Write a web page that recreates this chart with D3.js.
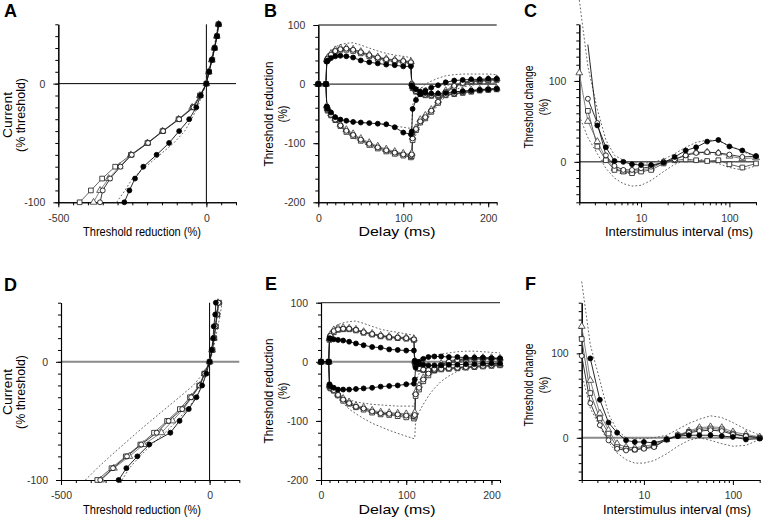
<!DOCTYPE html>
<html><head><meta charset="utf-8">
<script src="https://cdn.jsdelivr.net/npm/d3@7"></script>
<style>body{margin:0;background:#fff}svg{display:block}text{font-family:Arial,"Liberation Sans",sans-serif}</style>
</head><body><svg id="c" width="763" height="517"></svg>
<script>
// ---------- DATA ----------
// Current-threshold (A, D): x = threshold reduction (%), y = current (% threshold)
const currentLevels = [-100,-90,-80,-70,-60,-50,-40,-30,-20,-10,0,10,20,30,40,50];
const A_filled   = [-277,-260,-241,-213,-168,-126,-92,-58,-34,-19,0,9,19,28,36,42];
const A_circle   = [-359,-350,-325,-290,-252,-197,-146,-92,-43,-20,0,8,18,27,35,40];
const A_triangle = [-381,-359,-330,-293,-255,-199,-148,-94,-48,-22,0,8,18,27,35,41];
const A_square   = [-428,-390,-352,-308,-255,-199,-148,-94,-45,-22,0,9,20,28,36,41];
const A_dashed   = [-303,-275,-250,-205,-157,-110,-73,-50,-30,-15,0,8,17,25,33,40];

const D_filled   = [-306,-280,-243,-203,-132,-101,-70,-44,-25,-11,0,7,12,14,19,21];
const D_circle   = [-368,-325,-278,-230,-178,-138,-92,-62,-33,-17,0,9,15,20,25,30];
const D_triangle = [-365,-322,-270,-222,-162,-125,-88,-60,-32,-16,0,8,14,19,24,28];
const D_square   = [-378,-330,-282,-233,-187,-143,-100,-66,-35,-18,0,10,16,21,26,32];
const D_dashedL  = [-418,-378,-335,-290,-245,-198,-150,-102,-55,-22,0,12,20,28,36,42];
const D_dashedR  = [-295,-270,-235,-195,-150,-110,-75,-45,-25,-10,0,9,15,20,25,30];

// Threshold electrotonus (B, E): delay (ms)
const teDelays = [0,9,10,11,15,20,26,33,41,50,60,70,80,90,100,109,110,111,115,120,126,133,141,150,160,170,180,190,200,210];
const B_TEd_filled   = [0,0,38,40,44,47,48,47,45,40,37,35,33,32,30,30,-2,-5,-9,-13,-15,-16,-16,-15,-13,-12,-11,-10,-9,-8];
const B_TEd_circle   = [0,0,40,43,50,56,59,60,58,54,49,45,42,40,39,37,0,-6,-12,-16,-18,-19,-19,-18,-16,-14,-12,-10,-9,-8];
const B_TEd_triangle = [0,0,41,45,52,58,61,61,59,55,50,46,43,41,40,38,1,-4,-10,-14,-16,-17,-17,-16,-14,-12,-10,-9,-8,-7];
const B_TEd_square   = [0,0,39,42,48,55,58,58,56,52,47,43,40,38,37,35,-1,-7,-13,-17,-19,-20,-20,-19,-17,-15,-13,-11,-10,-9];
const B_TEh_filled   = [0,0,-38,-42,-48,-56,-60,-62,-64,-65,-66,-67,-68,-73,-82,-85,-80,-42,-27,-17,-11,-6,-2,3,6,7,8,8,9,9];
const B_TEh_circle   = [0,0,-38,-44,-52,-60,-70,-79,-86,-94,-101,-107,-112,-116,-119,-121,-119,-92,-76,-63,-56,-45,-30,-13,-3,2,5,6,7,8];
const B_TEh_triangle = [0,0,-37,-42,-50,-58,-68,-77,-84,-92,-99,-105,-110,-114,-117,-119,-117,-90,-74,-60,-53,-43,-28,-11,-1,3,6,7,8,9];
const B_TEh_square   = [0,0,-40,-45,-53,-61,-71,-81,-88,-96,-103,-109,-114,-118,-121,-124,-122,-95,-78,-65,-58,-47,-32,-15,-5,1,4,5,6,7];
const B_dashed1 = [null,null,45,48,56,63,67,69,70,66,61,56,52,49,47,45,0,-3,-5,-6,-6,-5,-3,-2,-1,0,1,1,1,2];
const B_dashed2 = [null,null,-38,-42,-48,-55,-60,-62,-64,-65,-66,-67,-69,-71,-73,-75,-72,-35,-20,-8,0,5,10,14,16,17,17,17,17,16];
const B_dashed3 = [null,null,-41,-46,-55,-63,-73,-82,-90,-98,-105,-111,-116,-120,-123,-126,-124,-100,-85,-70,-62,-50,-35,-20,-10,-5,-2,0,1,2];

const E_TEd_filled   = [0,0,40,39,38,37,36,34,31,28,25,24,21,20,19,19,2,-2,-4,-5,-6,-6,-6,-5,-5,-4,-4,-3,-3,-3];
const E_TEd_circle   = [0,0,38,44,52,55,56,56,54,50,47,44,42,41,40,38,0,-5,-11,-13,-14,-14,-12,-11,-10,-9,-8,-7,-6,-5];
const E_TEd_triangle = [0,0,39,46,54,57,58,57,55,51,48,45,43,42,41,39,1,-4,-10,-12,-13,-13,-11,-10,-9,-8,-7,-6,-5,-4];
const E_TEd_square   = [0,0,37,43,50,54,55,55,53,49,46,43,41,40,39,37,-1,-6,-12,-14,-15,-15,-13,-12,-11,-10,-9,-8,-7,-6];
const E_TEh_filled   = [0,0,-38,-42,-44,-47,-47,-47,-46,-45,-44,-42,-41,-40,-38,-37,-30,-10,0,5,8,9,9,8,8,7,7,7,6,6];
const E_TEh_circle   = [0,0,-40,-44,-48,-56,-64,-70,-76,-79,-84,-87,-88,-89,-91,-92,-90,-55,-44,-30,-20,-12,-5,0,3,5,6,6,6,5];
const E_TEh_triangle = [0,0,-40,-43,-47,-55,-62,-68,-74,-77,-82,-85,-86,-87,-88,-89,-86,-52,-40,-27,-18,-10,-3,2,4,6,7,7,7,6];
const E_TEh_square   = [0,0,-41,-45,-49,-57,-66,-71,-77,-81,-86,-89,-90,-92,-94,-96,-93,-58,-47,-33,-23,-14,-7,-2,1,3,4,5,5,4];
const E_dashed1 = [null,null,45,50,58,63,66,68,69,65,60,55,52,50,47,45,0,3,5,7,9,11,13,15,17,18,18,17,16,15];
const E_dashed2 = [null,null,-42,-45,-50,-55,-60,-64,-68,-70,-72,-73,-74,-75,-75,-75,-70,-35,-20,-12,-8,-5,-3,-2,-1,0,0,0,0,0];
const E_dashed3 = [null,null,-45,-50,-55,-62,-70,-80,-88,-96,-104,-110,-116,-121,-126,-130,-128,-100,-85,-72,-58,-45,-33,-24,-16,-11,-8,-5,-3,-1];

// Recovery cycle (C, F): interstimulus interval (ms)
const rcISI = [2,2.5,3.2,4,5,6.3,7.9,10,13,18,24,32,42,56,75,100,140,200];
const C_filled   = [null,145,45,18,1,0,-3,-4,-4,-1,6,14,18,25,27,19,14,7];
const C_circle   = [null,78,48,8,-5,-10,-10,-8,-6,0,3,8,11,12,11,9,6,7];
const C_triangle = [110,50,25,4,-8,-12,-12,-10,-8,0,3,9,12,12,11,7,4,5];
const C_square   = [null,63,19,2,-10,-12,-14,-12,-10,-2,2,3,2,1,2,-3,-7,-2];
const C_dashedU  = [200,118,65,27,8,2,-1,-2,-1,3,10,18,24,27,26,20,13,6];
const C_dashedL  = [57,30,10,-8,-20,-27,-30,-29,-23,-12,-3,2,3,2,-2,-7,-10,-5];

const F_filled   = [null,94,45,18,6,-3,-5,-5,-6,-2,2,3,3,3,2,1,-2,-1];
const F_circle   = [97,41,15,-3,-13,-15,-14,-13,-11,-2,2,6,8,9,8,4,2,0];
const F_triangle = [132,68,29,9,-7,-11,-12,-10,-8,-2,3,8,12,13,12,7,4,1];
const F_square   = [117,53,23,5,-11,-13,-14,-12,-10,-2,3,7,10,11,10,5,2,0];
const F_dashedU  = [185,110,68,28,9,0,-1,-1,0,3,10,17,22,26,24,18,10,3];
const F_dashedL  = [76,35,13,-5,-18,-26,-30,-30,-27,-19,-10,-3,0,-3,-7,-10,-9,-2];

// ---------- STYLES ----------
const ST = {
  filled:   {shape:'circle',   fill:'#000', stroke:'#000', line:'#111'},
  circle:   {shape:'circle',   fill:'#fff', stroke:'#111', line:'#222'},
  triangle: {shape:'triangle', fill:'#fff', stroke:'#444', line:'#777'},
  square:   {shape:'square',   fill:'#fff', stroke:'#222', line:'#555'},
  dashed:   {dash:'1.8,2', line:'#555'}
};

const svg = d3.select('#c');
const fmt = d => String(d);

function rangeStep(a,b,s){const r=[];for(let v=a;v<=b+1e-9;v+=s)r.push(+v.toFixed(6));return r;}

function addPanel(p){
  const g = svg.append('g');
  const x = (p.log ? d3.scaleLog() : d3.scaleLinear()).domain(p.xDomain).range(p.xRange);
  const y = d3.scaleLinear().domain(p.yDomain).range(p.yRange);
  const x0 = p.xRange[0], yb = p.yRange[0];

  p.refs.forEach(r=>{
    if (r.h !== undefined){
      g.append('line').attr('x1',x(p.xDomain[0])).attr('x2',x(p.xDomain[1]))
        .attr('y1',y(r.h)).attr('y2',y(r.h)).attr('stroke',r.color).attr('stroke-width',r.w);
    } else {
      g.append('line').attr('x1',x(r.v)).attr('x2',x(r.v))
        .attr('y1',y(p.yDomain[0])).attr('y2',y(p.yDomain[1])).attr('stroke',r.color).attr('stroke-width',r.w);
    }
  });

  const ax = [];
  ax.push(g.append('g').attr('transform',`translate(${x0},0)`)
    .call(d3.axisLeft(y).tickValues(p.yMinor).tickSize(3).tickSizeOuter(0).tickFormat('')));
  ax.push(g.append('g').attr('transform',`translate(${x0},0)`)
    .call(d3.axisLeft(y).tickValues(p.yMajor).tickSize(5).tickSizeOuter(0).tickPadding(8).tickFormat(fmt)));
  ax.push(g.append('g').attr('transform',`translate(0,${yb})`)
    .call(d3.axisBottom(x).tickValues(p.xMinor).tickSize(3).tickSizeOuter(0).tickFormat('')));
  ax.push(g.append('g').attr('transform',`translate(0,${yb})`)
    .call(d3.axisBottom(x).tickValues(p.xMajor).tickSize(5).tickSizeOuter(0).tickPadding(7).tickFormat(fmt)));
  ax.forEach(a=>{
    a.selectAll('path.domain').attr('stroke','#000').attr('stroke-width',1.1);
    a.selectAll('line').attr('stroke','#000');
    a.selectAll('text').attr('font-size',10.5).attr('fill','#333').attr('font-family','Arial, Liberation Sans, sans-serif');
  });

  const line = d3.line().defined(d=>d[1]!==null && d[0]!==null).x(d=>x(d[0])).y(d=>y(d[1]));

  p.series.filter(s=>s.style==='dashed').forEach(s=>{
    g.append('path').datum(s.pts).attr('d',line).attr('fill','none')
      .attr('stroke',ST.dashed.line).attr('stroke-width',0.9).attr('stroke-dasharray',ST.dashed.dash);
  });
  const marked = p.series.filter(s=>s.style!=='dashed');
  marked.forEach(s=>{
    g.append('path').datum(s.pts).attr('d',line).attr('fill','none')
      .attr('stroke',ST[s.style].line).attr('stroke-width',0.9);
  });
  marked.forEach(s=>{
    const st = ST[s.style];
    const pts = s.pts.filter((d,i)=>d[0]!==null && d[1]!==null && i >= (s.markFrom||0));
    const sym = st.shape==='circle' ? d3.symbol(d3.symbolCircle,19)
              : st.shape==='square' ? d3.symbol(d3.symbolSquare,22)
              : d3.symbol(d3.symbolTriangle,20);
    g.selectAll(null).data(pts).join('path')
      .attr('transform',d=>`translate(${x(d[0])},${y(d[1])})`)
      .attr('d',sym).attr('fill',st.fill).attr('stroke',st.stroke).attr('stroke-width',0.85);
  });

  g.append('text').attr('x',p.letter[0]).attr('y',p.letter[1]).attr('font-size',18)
    .attr('font-weight','bold').text(p.letter[2]);
  g.append('text').attr('x',p.xTitle[0]).attr('y',p.xTitle[1]).attr('text-anchor','middle')
    .attr('font-size',13).attr('textLength',p.xTitle[3]).attr('lengthAdjust','spacingAndGlyphs').text(p.xTitle[2]);
  p.yTitle.forEach(t=>{
    g.append('text').attr('transform',`translate(${t[0]},${t[1]}) rotate(-90)`)
      .attr('text-anchor','middle').attr('dy','0.35em').attr('font-size',t[4]||13)
      .attr('textLength',t[3]).attr('lengthAdjust','spacingAndGlyphs').text(t[2]);
  });
}

const ct = arr => arr.map((v,i)=>[v,currentLevels[i]]);
const te = arr => teDelays.map((t,i)=>[t,arr[i]]);
const rc = arr => rcISI.map((t,i)=>[t,arr[i]]);
const logMinor = [2,3,4,5,6,7,8,9,20,30,40,50,60,70,80,90,200];

addPanel({
  xDomain:[-500,100], xRange:[58.3,236], yDomain:[-100,50], yRange:[202.3,24.3],
  xMajor:[-500,0], xMinor:rangeStep(-500,100,50), yMajor:[-100,0], yMinor:rangeStep(-100,50,10),
  refs:[{h:0,color:'#000',w:1},{v:0,color:'#000',w:1}],
  series:[{style:'dashed',pts:ct(A_dashed)},{style:'triangle',pts:ct(A_triangle)},{style:'square',pts:ct(A_square)},
          {style:'circle',pts:ct(A_circle)},{style:'filled',pts:ct(A_filled)}],
  letter:[4,17,'A'], xTitle:[142,236,'Threshold reduction (%)',118],
  yTitle:[[8,115,'Current',46,12],[21,115,'(% threshold)',74,12.5]]
});
addPanel({
  xDomain:[0,210], xRange:[318.3,496.7], yDomain:[-200,100], yRange:[202.3,25],
  xMajor:[0,100,200], xMinor:rangeStep(0,210,10), yMajor:[-200,-100,0,100], yMinor:rangeStep(-200,100,20),
  refs:[{h:0,color:'#000',w:1},{h:100,color:'#000',w:1}],
  series:[{style:'dashed',pts:te(B_dashed1)},{style:'dashed',pts:te(B_dashed2)},{style:'dashed',pts:te(B_dashed3)},
          {style:'triangle',pts:te(B_TEd_triangle)},{style:'triangle',pts:te(B_TEh_triangle)},
          {style:'square',pts:te(B_TEd_square)},{style:'square',pts:te(B_TEh_square)},
          {style:'circle',pts:te(B_TEd_circle)},{style:'circle',pts:te(B_TEh_circle)},
          {style:'filled',pts:te(B_TEd_filled)},{style:'filled',pts:te(B_TEh_filled)}],
  letter:[264,17,'B'], xTitle:[397,236,'Delay (ms)',77],
  yTitle:[[268,114,'Threshold reduction',105],[282,114,'(%)',17]]
});
addPanel({
  log:true, xDomain:[2,200], xRange:[579.3,756], yDomain:[-50,170], yRange:[202.3,24.3],
  xMajor:[10,100], xMinor:logMinor, yMajor:[0,100], yMinor:rangeStep(-50,170,10),
  refs:[{h:0,color:'#000',w:1}],
  series:[{style:'dashed',pts:rc(C_dashedU)},{style:'dashed',pts:rc(C_dashedL)},
          {style:'triangle',pts:rc(C_triangle)},{style:'square',pts:rc(C_square)},
          {style:'circle',pts:rc(C_circle)},{style:'filled',pts:rc(C_filled),markFrom:2}],
  letter:[524,17,'C'], xTitle:[679,236,'Interstimulus interval (ms)',148],
  yTitle:[[528,107,'Threshold change',83],[543,107,'(%)',17]]
});
addPanel({
  xDomain:[-500,100], xRange:[61,239.3], yDomain:[-100,50], yRange:[480,302.7],
  xMajor:[-500,0], xMinor:rangeStep(-500,100,50), yMajor:[-100,0], yMinor:rangeStep(-100,50,10),
  refs:[{h:0,color:'#8a8a8a',w:2},{v:0,color:'#000',w:1}],
  series:[{style:'dashed',pts:ct(D_dashedL)},{style:'dashed',pts:ct(D_dashedR)},
          {style:'triangle',pts:ct(D_triangle)},{style:'square',pts:ct(D_square)},
          {style:'circle',pts:ct(D_circle)},{style:'filled',pts:ct(D_filled)}],
  letter:[4,291,'D'], xTitle:[142,514,'Threshold reduction (%)',118],
  yTitle:[[8,392,'Current',46,12],[21,392,'(% threshold)',74,12.5]]
});
addPanel({
  xDomain:[0,210], xRange:[321,500], yDomain:[-200,100], yRange:[480,302.7],
  xMajor:[0,100,200], xMinor:rangeStep(0,210,10), yMajor:[-200,-100,0,100], yMinor:rangeStep(-200,100,20),
  refs:[{h:0,color:'#8a8a8a',w:2},{h:100,color:'#444',w:1.2}],
  series:[{style:'dashed',pts:te(E_dashed1)},{style:'dashed',pts:te(E_dashed2)},{style:'dashed',pts:te(E_dashed3)},
          {style:'triangle',pts:te(E_TEd_triangle)},{style:'triangle',pts:te(E_TEh_triangle)},
          {style:'square',pts:te(E_TEd_square)},{style:'square',pts:te(E_TEh_square)},
          {style:'circle',pts:te(E_TEd_circle)},{style:'circle',pts:te(E_TEh_circle)},
          {style:'filled',pts:te(E_TEd_filled)},{style:'filled',pts:te(E_TEh_filled)}],
  letter:[265,290,'E'], xTitle:[397,514,'Delay (ms)',77],
  yTitle:[[268,391,'Threshold reduction',105],[282,391,'(%)',17]]
});
addPanel({
  log:true, xDomain:[2,200], xRange:[581.7,759.7], yDomain:[-50,160], yRange:[480,302.7],
  xMajor:[10,100], xMinor:logMinor, yMajor:[0,100], yMinor:rangeStep(-50,160,10),
  refs:[{h:0,color:'#8a8a8a',w:2}],
  series:[{style:'dashed',pts:rc(F_dashedU)},{style:'dashed',pts:rc(F_dashedL)},
          {style:'triangle',pts:rc(F_triangle)},{style:'square',pts:rc(F_square)},
          {style:'circle',pts:rc(F_circle)},{style:'filled',pts:rc(F_filled)}],
  letter:[525,290,'F'], xTitle:[677,514,'Interstimulus interval (ms)',148],
  yTitle:[[528,385,'Threshold change',83],[543,385,'(%)',17]]
});
</script></body></html>
